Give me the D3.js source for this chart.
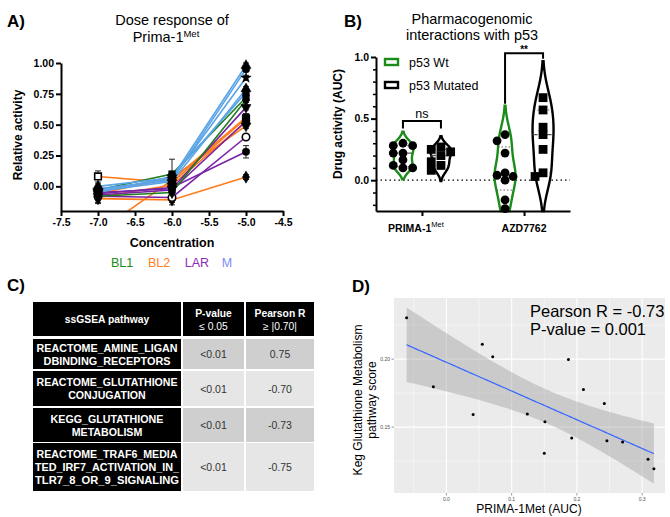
<!DOCTYPE html>
<html><head><meta charset="utf-8">
<script src="https://cdn.jsdelivr.net/npm/d3@7"></script>
<style>
body{margin:0;background:#fff}
svg{font-family:"Liberation Sans",Arial,sans-serif}
</style></head><body>
<svg id="fig" width="670" height="517"></svg>
<script>
// ---------- A) dose response
const doses = [-7, -6, -5];
const subtypes = ["BL1", "BL2", "LAR", "M"];
const lineColors = {BL1: "#1f7c1f", BL2: "#ff7b1c", LAR: "#7a22a6", M: "#5aa4e8"};
const legendColors = {BL1: "#1a8c1a", BL2: "#ff7f27", LAR: "#8a2cb6", M: "#7b8cff"};
const lineSubtype = ["BL2","BL2","BL2","BL2","BL2","LAR","LAR","LAR","LAR","BL1","BL1","M","M","M","M","M"];
const lineValues = [
  [0.08, 0.03, 0.55], [-0.37, 0.05, 0.56], [-0.09, 0.01, 0.52], [-0.10, -0.11, 0.075], [-0.06, 0.07, 0.49],
  [-0.05, -0.02, 0.64], [-0.07, -0.03, 0.53], [-0.08, -0.09, 0.40], [-0.06, -0.01, 0.28],
  [-0.03, 0.10, 0.72], [-0.08, -0.05, 0.70],
  [0.00, 0.07, 0.98], [-0.02, 0.05, 0.95], [-0.03, 0.06, 0.88], [-0.04, 0.04, 0.79], [-0.05, 0.08, 0.76]
];
const lineErrors = [
  [0.045, 0.02, 0.03], [0.02, 0.03, 0.03], [0.02, 0.02, 0.02], [0.04, 0.04, 0.02], [0.02, 0.02, 0.02],
  [0.02, 0.02, 0.02], [0.02, 0.02, 0.02], [0.02, 0.04, 0.02], [0.03, 0.03, 0.05],
  [0.02, 0.12, 0.02], [0.05, 0.02, 0.02],
  [0.02, 0.02, 0.02], [0.02, 0.02, 0.02], [0.02, 0.02, 0.02], [0.02, 0.02, 0.02], [0.02, 0.02, 0.02]
];
const lineMarkers = ["openSquare","square","diamond","diamond","triangleDown",
  "triangleDown","circle","openCircle","circle","square","diamond",
  "triangle","circle","star","triangle","square"];

// ---------- B) violins
const drugs = ["PRIMA-1Met", "AZD7762"];
const groups = ["p53 Wt", "p53 Mutated"];
const primaWt = [0.30, 0.28, 0.28, 0.22, 0.22, 0.165, 0.12, 0.10, 0.10];
const primaMut = [0.27, 0.25, 0.23, 0.20, 0.15, 0.12, 0.08];
const azdWt = [0.37, 0.32, 0.22, 0.06, 0.04, 0.03, 0.00, -0.16, -0.23];
const azdMut = [0.67, 0.57, 0.43, 0.37, 0.25, 0.06, 0.03];

// ---------- C) table
const tableHeader = [["ssGSEA pathway"], ["P-value", "≤ 0.05"], ["Pearson R", "≥ |0.70|"]];
const pathways = [
  ["REACTOME_AMINE_LIGAN", "DBINDING_RECEPTORS"],
  ["REACTOME_GLUTATHIONE", "CONJUGATION"],
  ["KEGG_GLUTATHIONE", "METABOLISM"],
  ["REACTOME_TRAF6_MEDIA", "TED_IRF7_ACTIVATION_IN_", "TLR7_8_OR_9_SIGNALING"]
];
const pValues = ["<0.01", "<0.01", "<0.01", "<0.01"];
const pearsonR = ["0.75", "-0.70", "-0.73", "-0.75"];

// ---------- D) scatter
const aucX = [-0.061, -0.020, 0.041, 0.055, 0.071, 0.124, 0.151, 0.150, 0.187, 0.192, 0.210, 0.242, 0.246, 0.270, 0.309, 0.318];
const keggY = [0.2304, 0.1796, 0.1593, 0.211, 0.2017, 0.1596, 0.1539, 0.1307, 0.1998, 0.1419, 0.1777, 0.1674, 0.1399, 0.139, 0.1263, 0.1193];

const svg = d3.select("#fig");

function label(g, x, y, txt, size, weight, anchor, fill) {
  return g.append("text").attr("x", x).attr("y", y).text(txt)
    .attr("font-size", size).attr("font-weight", weight || "normal")
    .attr("text-anchor", anchor || "middle").attr("fill", fill || "#000");
}

// panel letters
label(svg, 7, 27, "A)", 17, "bold", "start");
label(svg, 344, 27, "B)", 17, "bold", "start");
label(svg, 7, 291, "C)", 17, "bold", "start");
label(svg, 352, 292, "D)", 17, "bold", "start");

// ================= A
{
  const g = svg.append("g");
  const x = d3.scaleLinear().domain([-7.5, -4.5]).range([61, 283]);
  const y = d3.scaleLinear().domain([-0.2, 1.0]).range([211, 63]);

  label(g, 172, 25, "Dose response of", 14.5);
  const t2 = label(g, 166, 42, "Prima-1", 14.5);
  t2.append("tspan").attr("dy", -5).attr("font-size", 9.5).text("Met");

  g.append("clipPath").attr("id", "clipA").append("rect")
    .attr("x", 40).attr("y", 40).attr("width", 260).attr("height", 171);

  const line = d3.line().x((d, i) => x(doses[i])).y(d => y(d));
  const plot = g.append("g").attr("clip-path", "url(#clipA)");
  lineValues.forEach((vals, k) => {
    plot.append("path").attr("d", line(vals)).attr("fill", "none")
      .attr("stroke", lineColors[lineSubtype[k]]).attr("stroke-width", 1.6);
  });
  // error bars and markers
  const symType = {circle: d3.symbolCircle, openCircle: d3.symbolCircle, square: d3.symbolSquare,
    openSquare: d3.symbolSquare, triangle: d3.symbolTriangle, triangleDown: d3.symbolTriangle,
    star: d3.symbolStar, diamond: d3.symbolDiamond};
  lineValues.forEach((vals, k) => {
    vals.forEach((v, i) => {
      if (v < -0.2) return;
      const e = lineErrors[k][i], cx = x(doses[i]);
      plot.append("path")
        .attr("d", `M${cx},${y(v - e)}V${y(v + e)}M${cx - 3},${y(v - e)}h6M${cx - 3},${y(v + e)}h6`)
        .attr("stroke", "#222").attr("stroke-width", 1);
    });
  });
  lineValues.forEach((vals, k) => {
    const m = lineMarkers[k];
    const open = m.startsWith("open");
    vals.forEach((v, i) => {
      if (v < -0.2) return;
      plot.append("path")
        .attr("d", d3.symbol().type(symType[m]).size(m === "star" ? 34 : 44)())
        .attr("transform", `translate(${x(doses[i])},${y(v)})` + (m === "triangleDown" ? " rotate(180)" : ""))
        .attr("fill", open ? "#fff" : "#000").attr("stroke", "#000").attr("stroke-width", open ? 1.6 : 0.5);
    });
  });

  const ya = g.append("g").attr("transform", "translate(61,0)")
    .call(d3.axisLeft(y).tickValues([0, 0.25, 0.5, 0.75, 1]).tickFormat(d3.format(".2f")).tickSize(5).tickSizeOuter(0));
  const xa = g.append("g").attr("transform", "translate(0,211)")
    .call(d3.axisBottom(x).tickValues(d3.range(-7.5, -4.49, 0.5)).tickFormat(d3.format(".1f")).tickSize(5).tickSizeOuter(0));
  [ya, xa].forEach(a => {
    a.select(".domain").attr("stroke-width", 2);
    a.selectAll(".tick line").attr("stroke-width", 2);
    a.selectAll(".tick text").attr("font-size", 10.5).attr("font-weight", "bold")
      .attr("font-family", "Liberation Sans, Arial, sans-serif").attr("fill", "#000");
  });
  xa.selectAll(".tick text").text(d => d3.format(".1f")(d).replace("−", "-"));
  ya.selectAll(".tick text").attr("x", -7);

  label(g, 0, 0, "Relative activity", 12, "bold").attr("transform", "translate(22,135) rotate(-90)");
  label(g, 172, 247, "Concentration", 12.5, "bold");

  const legX = [122, 159, 197, 227];
  subtypes.forEach((s, i) => label(g, legX[i], 267, s, 12.5, "normal", "middle", legendColors[s]));
}

// ================= B
{
  const g = svg.append("g");
  const y = d3.scaleLinear().domain([-0.25, 1.0]).range([211, 57]);
  const x = d3.scalePoint().domain(drugs).range([376, 570]).padding(0.45);
  const off = 19;
  const sets = [
    {drug: drugs[0], grp: 0, vals: primaWt},
    {drug: drugs[0], grp: 1, vals: primaMut},
    {drug: drugs[1], grp: 0, vals: azdWt},
    {drug: drugs[1], grp: 1, vals: azdMut}
  ];
  const grpColor = ["#1a8c1a", "#000"];

  label(g, 472, 24, "Pharmacogenomic", 14.5);
  label(g, 472, 40, "interactions with p53", 14.5);

  // dotted zero line
  g.append("line").attr("x1", 376).attr("x2", 570).attr("y1", y(0)).attr("y2", y(0))
    .attr("stroke", "#000").attr("stroke-width", 1.3).attr("stroke-dasharray", "1.5,3");

  function quant(arr, p) {
    const s = arr.slice().sort(d3.ascending);
    const pos = (s.length + 1) * p - 1;
    const lo = Math.max(0, Math.floor(pos)), hi = Math.min(s.length - 1, Math.ceil(pos));
    return s[lo] + (s[hi] - s[lo]) * (pos - lo);
  }

  sets.forEach(set => {
    const cx = x(set.drug) + (set.grp === 0 ? -off : off);
    const v = set.vals;
    const sd = d3.deviation(v);
    const iqr = quant(v, 0.75) - quant(v, 0.25);
    const bw = 0.9 * Math.min(sd, iqr / 1.34) * Math.pow(v.length, -0.2);
    const lo = Math.max(-0.25, d3.min(v) - 2 * bw), hi = Math.min(1.0, d3.max(v) + 2 * bw);
    const grid = d3.range(lo, hi, (hi - lo) / 80).concat([hi]);
    const dens = grid.map(t => [t, d3.sum(v, d => Math.exp(-0.5 * ((t - d) / bw) ** 2))]);
    const w = d3.scaleLinear().domain([0, d3.max(dens, d => d[1])]).range([0, 10.5]);
    const area = d3.area().curve(d3.curveBasis)
      .y(d => y(d[0])).x0(d => cx - w(d[1])).x1(d => cx + w(d[1]));
    g.append("path").attr("d", area(dens)).attr("fill", "#fff")
      .attr("stroke", grpColor[set.grp]).attr("stroke-width", 2.4);

    // median + quartiles
    [[0.25, "1.5,2", 0.9], [0.5, "5,2", 1.4], [0.75, "1.5,2", 0.9]].forEach(([p, dash, sw]) => {
      const q = quant(v, p);
      const dq = d3.sum(v, d => Math.exp(-0.5 * ((q - d) / bw) ** 2));
      g.append("line").attr("x1", cx - w(dq)).attr("x2", cx + w(dq)).attr("y1", y(q)).attr("y2", y(q))
        .attr("stroke", "#555").attr("stroke-width", sw).attr("stroke-dasharray", dash);
    });

    // simple swarm
    const r = 4.4, placed = [];
    const step = set.drug === drugs[0] ? 9.7 : 8;
    v.slice().sort(d3.descending).forEach(val => {
      const py = y(val);
      let k = 0, px;
      while (true) {
        const cand = k === 0 ? [0] : [-k, k];
        const ok = cand.map(c => cx + c * step).find(cxx => placed.every(p => Math.hypot(p[0] - cxx, p[1] - py) >= 1.5 * r));
        if (ok !== undefined) { px = ok; break; }
        k++;
      }
      placed.push([px, py]);
      if (set.grp === 0) g.append("circle").attr("cx", px).attr("cy", py).attr("r", r).attr("fill", "#000");
      else g.append("rect").attr("x", px - r).attr("y", py - r).attr("width", 2 * r).attr("height", 2 * r).attr("fill", "#000");
    });
  });

  // axes
  const ya = g.append("g").attr("transform", "translate(376,0)")
    .call(d3.axisLeft(y).tickValues([0, 0.5, 1.0]).tickFormat(d3.format(".1f")).tickSize(5).tickSizeOuter(0));
  g.append("g").attr("transform", "translate(376,0)")
    .call(d3.axisLeft(y).tickValues(d3.range(-0.2, 1.0, 0.1).filter(t => Math.abs(t * 2 - Math.round(t * 2)) > 0.01)).tickFormat("").tickSize(3).tickSizeOuter(0))
    .call(a => a.select(".domain").remove())
    .selectAll(".tick line").attr("stroke-width", 1.5);
  const xa = g.append("g").attr("transform", "translate(0,211)")
    .call(d3.axisBottom(x).tickFormat("").tickSize(5).tickSizeOuter(0));
  [ya, xa].forEach(a => {
    a.select(".domain").attr("stroke-width", 2);
    a.selectAll(".tick line").attr("stroke-width", 2);
    a.selectAll(".tick text").attr("font-size", 10.5).attr("font-weight", "bold")
      .attr("font-family", "Liberation Sans, Arial, sans-serif").attr("fill", "#000");
  });
  ya.selectAll(".tick text").attr("x", -7);

  const c1 = label(g, x(drugs[0]) - 6, 232, "PRIMA-1", 10.5, "bold");
  c1.append("tspan").attr("dy", -5).attr("font-size", 7.5).attr("font-weight", "normal").text("Met");
  label(g, x(drugs[1]), 232, "AZD7762", 10.5, "bold");

  label(g, 0, 0, "Drug activity (AUC)", 12, "bold").attr("transform", "translate(342,124) rotate(-90)");

  // legend
  groups.forEach((gr, i) => {
    const ly = 62 + i * 23;
    g.append("rect").attr("x", 385).attr("y", ly - 3).attr("width", 13).attr("height", 6)
      .attr("fill", "#fff").attr("stroke", grpColor[i]).attr("stroke-width", 2.4);
    label(g, 409, ly + 5, gr, 12.5, "normal", "start");
  });

  // significance brackets
  const bx = d => x(d);
  g.append("path").attr("d", `M${bx(drugs[0]) - off},${y(0.42)}V${y(0.48)}H${bx(drugs[0]) + off}V${y(0.42)}`)
    .attr("fill", "none").attr("stroke", "#000").attr("stroke-width", 2);
  label(g, bx(drugs[0]), y(0.505), "ns", 12.5);
  g.append("path").attr("d", `M${bx(drugs[1]) - off},${y(0.62)}V${y(1.03)}H${bx(drugs[1]) + off}V${y(0.985)}`)
    .attr("fill", "none").attr("stroke", "#000").attr("stroke-width", 2);
  label(g, bx(drugs[1]), 53, "**", 10, "bold");
}

// ================= C
{
  const g = svg.append("g");
  const colX = [33, 183, 246], colW = [148, 61, 68];
  const rowY = [302, 339, 371, 408, 443], rowH = [34, 30, 35, 34, 48];
  const dataFill = ["#cfcfcf", "#e6e6e6", "#cfcfcf", "#e6e6e6"];
  const fs = 10.3;

  tableHeader.forEach((lines, c) => {
    g.append("rect").attr("x", colX[c]).attr("y", rowY[0]).attr("width", colW[c]).attr("height", rowH[0]).attr("fill", "#000");
    const cy = rowY[0] + rowH[0] / 2;
    lines.forEach((ln, j) => {
      const yy = cy + (j - (lines.length - 1) / 2) * 13 + 4;
      label(g, colX[c] + colW[c] / 2, yy, ln, fs, j === 0 ? "bold" : "normal", "middle", "#fff");
    });
  });
  pathways.forEach((lines, r) => {
    const top = rowY[r + 1], h = rowH[r + 1], cy = top + h / 2;
    g.append("rect").attr("x", colX[0]).attr("y", top).attr("width", colW[0]).attr("height", h).attr("fill", "#000");
    lines.forEach((ln, j) => {
      const yy = cy + (j - (lines.length - 1) / 2) * 13 + 4;
      label(g, colX[0] + colW[0] / 2, yy, ln, fs, "bold", "middle", "#fff")
        .attr("textLength", Math.min(ln.length * 7.05, colW[0] - 4)).attr("lengthAdjust", "spacingAndGlyphs");
    });
    [pValues[r], pearsonR[r]].forEach((txt, c) => {
      g.append("rect").attr("x", colX[c + 1]).attr("y", top).attr("width", colW[c + 1]).attr("height", h).attr("fill", dataFill[r]);
      label(g, colX[c + 1] + colW[c + 1] / 2, cy + 4, txt, 10.5, "normal", "middle", "#333");
    });
  });
}

// ================= D
{
  const g = svg.append("g");
  const x = d3.scaleLinear().domain([-0.0803, 0.335]).range([394, 665]);
  const y = d3.scaleLinear().domain([0.1015, 0.245]).range([493, 298]);

  g.append("rect").attr("x", 394).attr("y", 298).attr("width", 271).attr("height", 195).attr("fill", "#ebebeb");
  [-0.05, 0.05, 0.15, 0.25].forEach(t => g.append("line").attr("x1", x(t)).attr("x2", x(t)).attr("y1", 298).attr("y2", 493).attr("stroke", "#fff").attr("stroke-width", 0.5));
  [0.125, 0.175, 0.225].forEach(t => g.append("line").attr("y1", y(t)).attr("y2", y(t)).attr("x1", 394).attr("x2", 665).attr("stroke", "#fff").attr("stroke-width", 0.5));
  const xt = [0.0, 0.1, 0.2, 0.3], yt = [0.15, 0.20];
  xt.forEach(t => g.append("line").attr("x1", x(t)).attr("x2", x(t)).attr("y1", 298).attr("y2", 493).attr("stroke", "#fff").attr("stroke-width", 1.1));
  yt.forEach(t => g.append("line").attr("y1", y(t)).attr("y2", y(t)).attr("x1", 394).attr("x2", 665).attr("stroke", "#fff").attr("stroke-width", 1.1));

  // linear fit with 95% CI
  const n = aucX.length, mx = d3.mean(aucX), my = d3.mean(keggY);
  const sxx = d3.sum(aucX, v => (v - mx) ** 2);
  const sxy = d3.sum(aucX.map((v, i) => (v - mx) * (keggY[i] - my)));
  const b = sxy / sxx, a0 = my - b * mx;
  const s = Math.sqrt(d3.sum(aucX.map((v, i) => (keggY[i] - a0 - b * v) ** 2)) / (n - 2));
  const tcrit = 2.145;
  const xs = d3.range(0, 81).map(i => d3.min(aucX) + (d3.max(aucX) - d3.min(aucX)) * i / 80);
  const fit = xs.map(v => {
    const yh = a0 + b * v, se = s * Math.sqrt(1 / n + (v - mx) ** 2 / sxx);
    return {x: v, y: yh, lo: yh - tcrit * se, hi: yh + tcrit * se};
  });
  g.append("path").attr("d", d3.area().x(d => x(d.x)).y0(d => y(d.lo)).y1(d => y(d.hi))(fit))
    .attr("fill", "#999").attr("fill-opacity", 0.4);
  g.append("path").attr("d", d3.line().x(d => x(d.x)).y(d => y(d.y))(fit))
    .attr("fill", "none").attr("stroke", "#3366ff").attr("stroke-width", 1.2);

  aucX.forEach((v, i) => g.append("circle").attr("cx", x(v)).attr("cy", y(keggY[i])).attr("r", 1.5).attr("fill", "#000"));

  // axes (ggplot style)
  xt.forEach(t => {
    g.append("line").attr("x1", x(t)).attr("x2", x(t)).attr("y1", 493).attr("y2", 495.5).attr("stroke", "#333").attr("stroke-width", 0.5);
    label(g, x(t), 501, d3.format(".1f")(t), 5, "normal", "middle", "#4d4d4d");
  });
  yt.forEach(t => {
    g.append("line").attr("x1", 391.5).attr("x2", 394).attr("y1", y(t)).attr("y2", y(t)).attr("stroke", "#333").attr("stroke-width", 0.5);
    label(g, 390, y(t) + 2, d3.format(".2f")(t), 5, "normal", "end", "#4d4d4d");
  });

  label(g, 529, 513, "PRIMA-1Met (AUC)", 12);
  const yl = g.append("text").attr("transform", "translate(365,400) rotate(-90)")
    .attr("text-anchor", "middle").attr("font-size", 12);
  yl.append("tspan").attr("x", 0).attr("y", -3).text("Keg Glutathione Metabolism");
  yl.append("tspan").attr("x", 0).attr("y", 11).text("pathway score");

  label(g, 530, 317, "Pearson R = -0.73", 16.5, "normal", "start");
  label(g, 530, 335, "P-value = 0.001", 16.5, "normal", "start");
}
</script>
</body></html>
